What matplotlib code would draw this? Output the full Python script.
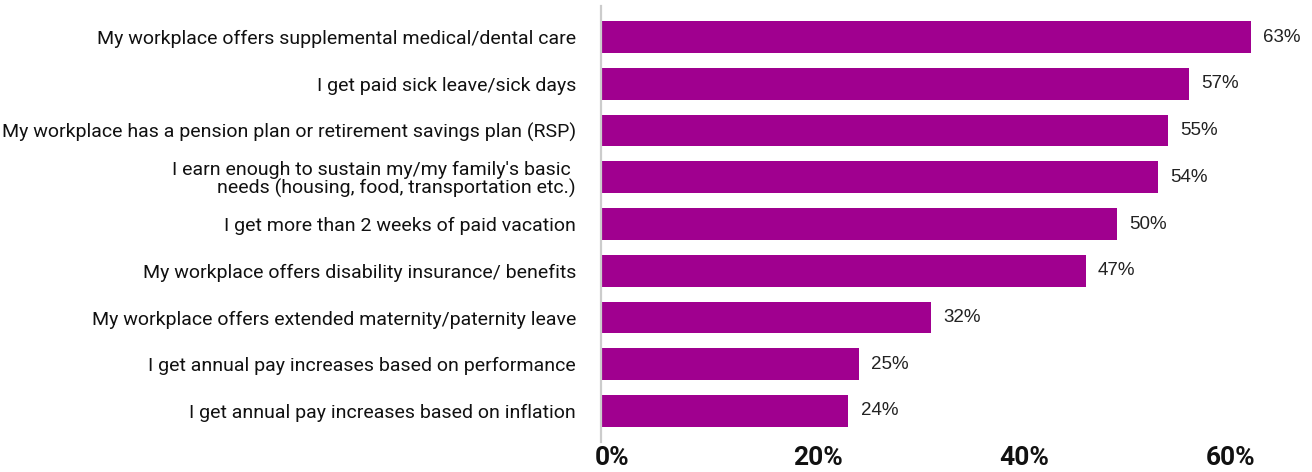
import matplotlib
matplotlib.use("Agg")
import matplotlib.pyplot as plt
import matplotlib.transforms as mtransforms

categories = [
    "My workplace offers supplemental medical/dental care",
    "I get paid sick leave/sick days",
    "My workplace has a pension plan or retirement savings plan (RSP)",
    "I earn enough to sustain my/my family's basic \nneeds (housing, food, transportation etc.)",
    "I get more than 2 weeks of paid vacation",
    "My workplace offers disability insurance/ benefits",
    "My workplace offers extended maternity/paternity leave",
    "I get annual pay increases based on performance",
    "I get annual pay increases based on inflation",
]
values = [63, 57, 55, 54, 50, 47, 32, 25, 24]
xticks = [0, 20, 40, 60]
xtick_labels = ["0%", "20%", "40%", "60%"]

BAR_COLOR = "#A0008F"
W, H = 1312, 472
fig = plt.figure(figsize=(W / 100, H / 100), dpi=100)

x0_px, scale = 601, 10.31
xmax = 68
ax = fig.add_axes([x0_px / W, (H - 442) / H, xmax * scale / W, 436 / H])

ypos = list(range(len(categories)))
ax.barh(ypos, values, height=0.68, color=BAR_COLOR, zorder=2)
ax.set_ylim(len(categories) - 1 + 0.665, -0.665)
ax.set_xlim(0, xmax)

for y, v in zip(ypos, values):
    ax.text(v + 1.2, y, f"{v}%", va="center", ha="left", fontsize=13.5,
            family="Liberation Sans", color="#222222")

ax.set_yticks(ypos)
ax.set_yticklabels(categories, fontsize=14, family="Roboto", color="#111111",
                   linespacing=1.0)
ax.tick_params(axis="y", length=0, pad=18)

ax.set_xticks(xticks)
ax.set_xticklabels(xtick_labels, fontsize=19, fontweight="bold",
                   family="Roboto", color="#111111")
ax.tick_params(axis="x", length=0, pad=3)
offset = mtransforms.ScaledTranslation(11 / 100, 0, fig.dpi_scale_trans)
for lbl in ax.get_xticklabels():
    lbl.set_transform(lbl.get_transform() + offset)

for side in ["top", "right", "bottom"]:
    ax.spines[side].set_visible(False)
ax.spines["left"].set_color("#CCCCCC")
ax.spines["left"].set_linewidth(1.6)

fig.savefig("out.png", dpi=100)
